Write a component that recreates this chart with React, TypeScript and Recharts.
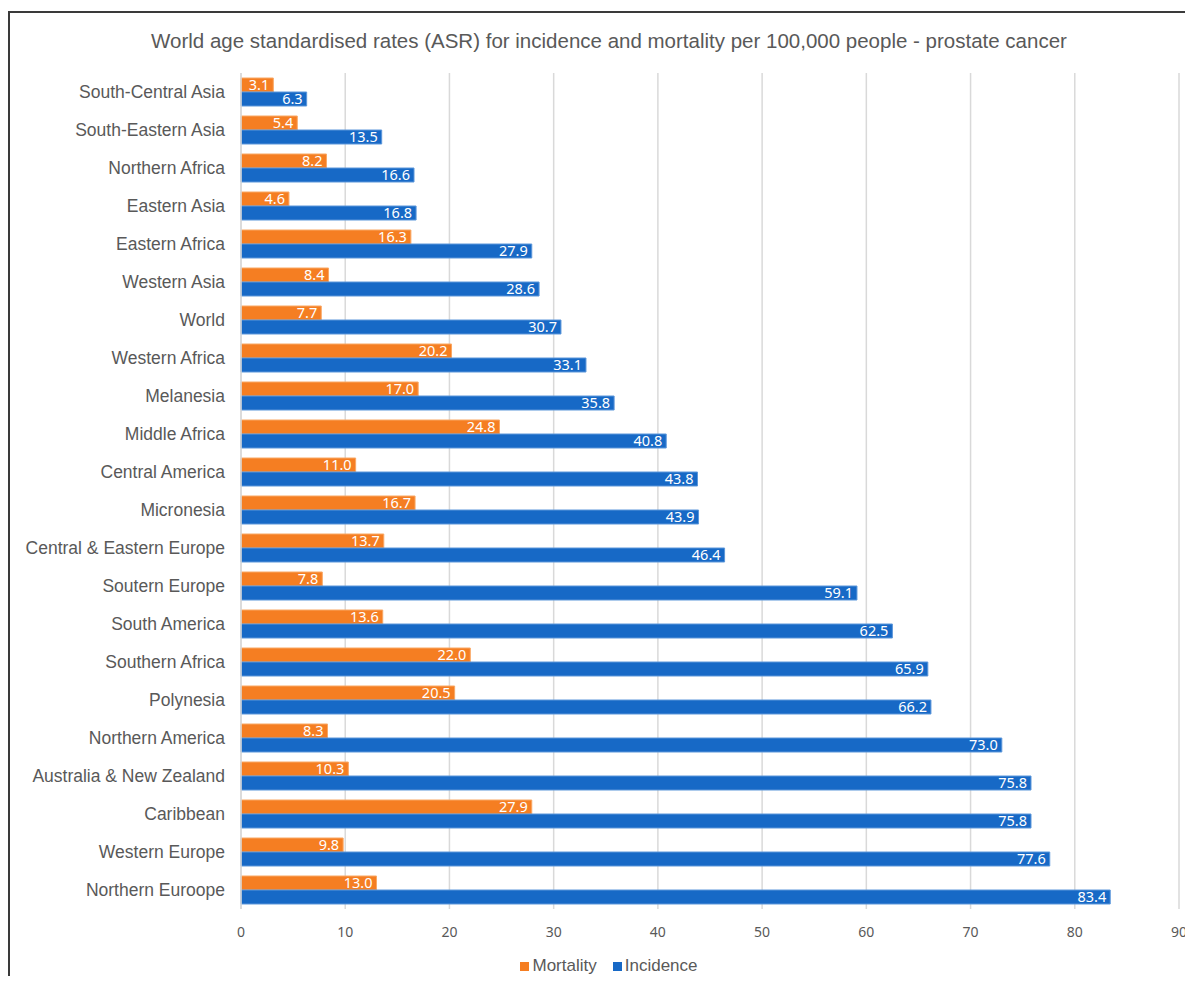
import { BarChart, Bar, XAxis, YAxis, CartesianGrid, Legend, LabelList } from 'recharts';

const regions = [
  'South-Central Asia',
  'South-Eastern Asia',
  'Northern Africa',
  'Eastern Asia',
  'Eastern Africa',
  'Western Asia',
  'World',
  'Western Africa',
  'Melanesia',
  'Middle Africa',
  'Central America',
  'Micronesia',
  'Central & Eastern Europe',
  'Soutern Europe',
  'South America',
  'Southern Africa',
  'Polynesia',
  'Northern America',
  'Australia & New Zealand',
  'Caribbean',
  'Western Europe',
  'Northern Euroope',
];

const mortality = [3.1, 5.4, 8.2, 4.6, 16.3, 8.4, 7.7, 20.2, 17.0, 24.8, 11.0, 16.7, 13.7, 7.8, 13.6, 22.0, 20.5, 8.3, 10.3, 27.9, 9.8, 13.0];
const incidence = [6.3, 13.5, 16.6, 16.8, 27.9, 28.6, 30.7, 33.1, 35.8, 40.8, 43.8, 43.9, 46.4, 59.1, 62.5, 65.9, 66.2, 73.0, 75.8, 75.8, 77.6, 83.4];

const xTicks = [0, 10, 20, 30, 40, 50, 60, 70, 80, 90];

const data = regions.map((region, i) => ({
  region,
  mortality: mortality[i],
  incidence: incidence[i],
}));

const ORANGE = '#F57E22';
const BLUE = '#1769C6';
const TEXT = '#595959';

function LegendContent() {
  const items = [
    { label: 'Mortality', color: ORANGE },
    { label: 'Incidence', color: BLUE },
  ];
  return (
    <div style={{ display: 'flex', justifyContent: 'center', gap: 16, fontFamily: 'Liberation Sans, Arial, sans-serif', fontSize: 17, color: TEXT }}>
      {items.map((it) => (
        <div key={it.label} style={{ display: 'flex', alignItems: 'center', gap: 3 }}>
          <span style={{ display: 'inline-block', width: 9, height: 9, background: it.color }} />
          <span>{it.label}</span>
        </div>
      ))}
    </div>
  );
}

export default function App() {
  return (
    <div
      style={{
        position: 'relative',
        width: 1185,
        height: 965,
        marginTop: 3,
        borderTop: '2px solid #3a3a3a',
        borderLeft: '2px solid #3a3a3a',
        background: '#fff',
        boxSizing: 'border-box',
      }}
    >
      <style>{`html, body { overflow: hidden; } .recharts-surface { overflow: visible; }`}</style>
      <div
        style={{
          position: 'absolute',
          top: 16,
          left: 0,
          width: 1198,
          textAlign: 'center',
          fontFamily: 'Liberation Sans, Arial, sans-serif',
          fontSize: 20.5,
          color: TEXT,
        }}
      >
        World age standardised rates (ASR) for incidence and mortality per 100,000 people - prostate cancer
      </div>
      <BarChart
        width={1183}
        height={963}
        data={data}
        layout="vertical"
        margin={{ top: 60, right: 14, left: 6, bottom: 17 }}
        barCategoryGap={5}
        barGap={0}
      >
        <CartesianGrid horizontal={false} stroke="#d9d9d9" strokeWidth={1.5} />
        <XAxis
          type="number"
          domain={[0, 90]}
          ticks={xTicks}
          axisLine={false}
          tickLine={false}
          tickMargin={12}
          height={30}
          tick={{ fill: TEXT, fontSize: 14, fontFamily: 'Noto Sans, sans-serif' }}
        />
        <YAxis
          type="category"
          dataKey="region"
          width={225}
          axisLine={{ stroke: '#d9d9d9', strokeWidth: 1.5 }}
          tickLine={false}
          tickMargin={10}
          interval={0}
          tick={{ fill: TEXT, fontSize: 17.5, fontFamily: 'Liberation Sans, Arial, sans-serif' }}
        />
        <Legend
          content={<LegendContent />}
          wrapperStyle={{ position: 'absolute', top: 943, left: 0, width: 1198 }}
        />
        <Bar dataKey="mortality" name="Mortality" fill={ORANGE} stroke="#F9A865" strokeWidth={1} isAnimationActive={false}>
          <LabelList
            dataKey="mortality"
            position="insideRight"
            offset={4}
            formatter={(v: number) => v.toFixed(1)}
            style={{ fill: '#fff', fontSize: 14.5, fontFamily: 'Noto Sans, sans-serif' }}
          />
        </Bar>
        <Bar dataKey="incidence" name="Incidence" fill={BLUE} stroke="#5D97DA" strokeWidth={1} isAnimationActive={false}>
          <LabelList
            dataKey="incidence"
            position="insideRight"
            offset={4}
            formatter={(v: number) => v.toFixed(1)}
            style={{ fill: '#fff', fontSize: 14.5, fontFamily: 'Noto Sans, sans-serif' }}
          />
        </Bar>
      </BarChart>
    </div>
  );
}
